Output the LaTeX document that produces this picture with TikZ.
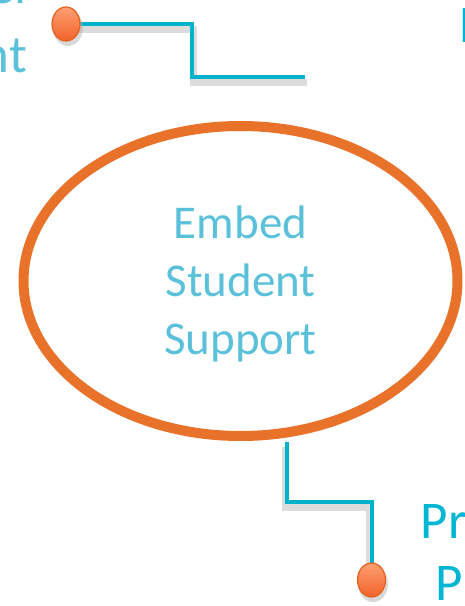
\documentclass[tikz,border=0pt]{standalone}
\usepackage{fontspec}
\setmainfont{Carlito}
\usetikzlibrary{shapes.geometric,backgrounds}
\definecolor{hubring}{HTML}{E8722A}
\definecolor{hubtext}{HTML}{5BC1DA}
\definecolor{linkcol}{HTML}{00B2CB}
\definecolor{labelcol}{HTML}{00B6D3}
\definecolor{dottop}{HTML}{FF9F73}
\definecolor{dotbot}{HTML}{F2622A}
\definecolor{dotedge}{HTML}{E4601C}
\begin{document}
\begin{tikzpicture}[x=1pt,y=-1pt,
  hub/.style={ellipse, draw=hubring, line width=10pt, minimum width=434pt, minimum height=310pt, inner sep=0pt},
  hubtxt/.style={font=\fontsize{47}{58}\selectfont, text=hubtext, align=center, inner sep=0pt},
  sidetxt/.style={font=\fontsize{53}{69}\selectfont, inner sep=0pt},
  dot/.style={ellipse, minimum width=28pt, minimum height=34pt, inner sep=0pt, draw=dotedge, line width=1.2pt, top color=dottop, bottom color=dotbot},
  dotshadow/.style={ellipse, minimum width=30pt, minimum height=36pt, inner sep=0pt, fill=black!30, opacity=0.5},
  link/.style={draw=linkcol, line width=4pt},
  linkshadow/.style={draw=black!25, line width=7pt, opacity=0.55}]
\useasboundingbox (0,0) rectangle (464,606);

% hub
\node[hub] (hub) at (240.5,281) {};
\node[hubtxt] (hubtext) at (240.5,284) {Embed\\Student\\Support};

% side labels
\node[sidetxt, text=hubtext, align=right, anchor=south east] (lbltl) at (27,73) {Student Panel\\Involvement};
\node[sidetxt, text=labelcol, anchor=base west] (lbltr) at (459,42) {Pastoral Care};
\node[sidetxt, text=labelcol, anchor=base west] (lblbr1) at (420.5,538) {Progression};
\node[sidetxt, text=labelcol, anchor=base west] (lblbr2) at (435,600) {Planning};

% connector points
\coordinate (tlbend1) at (191.5,24);
\coordinate (tlbend2) at (191.5,77);
\coordinate (tlend) at (305,77);
\coordinate (brstart) at (287,442);
\coordinate (brbend1) at (287,502);
\coordinate (brbend2) at (371.5,502);

% dots
\node[dotshadow] (dottlsh) at (68,28) {};
\node[dotshadow] (dotbrsh) at (373,584) {};
\node[dot] (dottl) at (66,24) {};
\node[dot] (dotbr) at (371.5,580) {};

\begin{pgfonlayer}{background}
\draw[linkshadow] ([shift={(2,5)}]dottl.center) -- ([shift={(2,5)}]tlbend1) -- ([shift={(2,5)}]tlbend2) -- ([shift={(2,5)}]tlend);
\draw[linkshadow] ([shift={(-2,5)}]brstart) -- ([shift={(-2,5)}]brbend1) -- ([shift={(-2,5)}]brbend2) -- ([shift={(-2,5)}]dotbr.center);
\draw[link] (dottl.center) -- (tlbend1) -- (tlbend2) -- (tlend);
\draw[link] (brstart) -- (brbend1) -- (brbend2) -- (dotbr.center);
\end{pgfonlayer}
\end{tikzpicture}
\end{document}
